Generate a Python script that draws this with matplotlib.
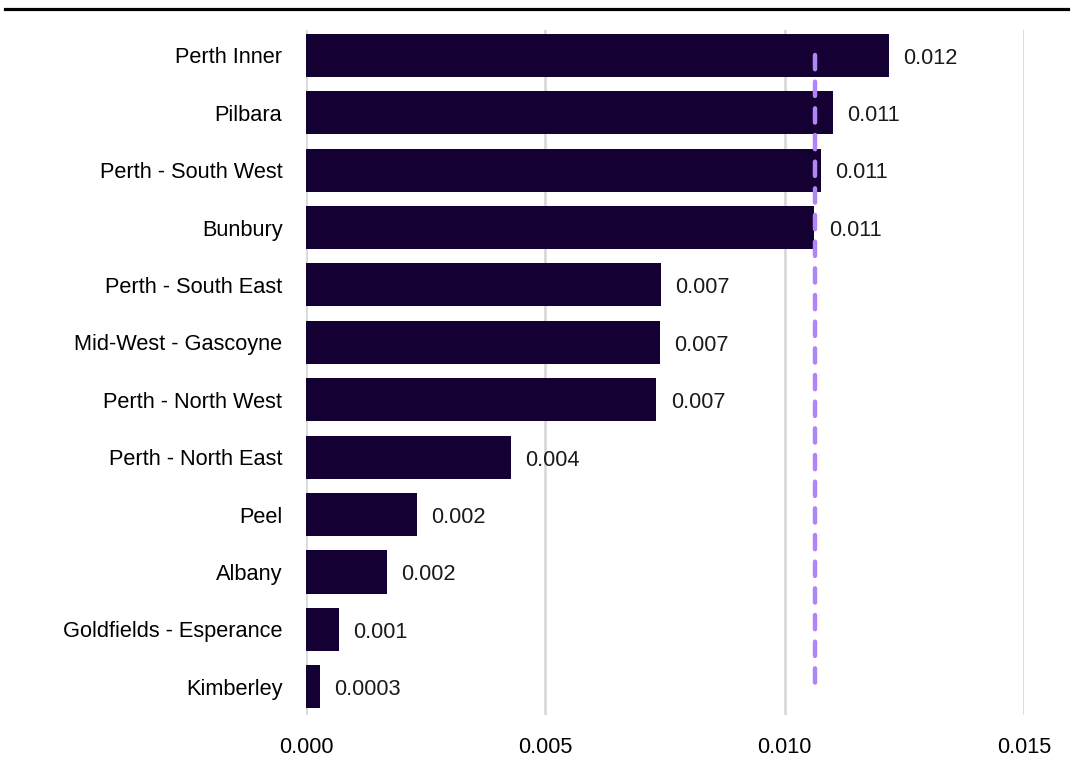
import matplotlib
matplotlib.use("Agg")
import matplotlib.pyplot as plt
from matplotlib.lines import Line2D

regions = ["Perth Inner", "Pilbara", "Perth - South West", "Bunbury",
           "Perth - South East", "Mid-West - Gascoyne", "Perth - North West",
           "Perth - North East", "Peel", "Albany", "Goldfields - Esperance",
           "Kimberley"]
values = [0.01218, 0.01100, 0.01075, 0.01062, 0.00741, 0.00739, 0.00732,
          0.00428, 0.00232, 0.00169, 0.00069, 0.00029]
value_labels = ["0.012", "0.011", "0.011", "0.011", "0.007", "0.007", "0.007",
                "0.004", "0.002", "0.002", "0.001", "0.0003"]
state_average = 0.01064
xticks = [0.000, 0.005, 0.010, 0.015]
xtick_labels = ["0.000", "0.005", "0.010", "0.015"]

plt.rcParams["font.family"] = ["Liberation Sans", "DejaVu Sans"]

fig = plt.figure(figsize=(10.73, 7.62), dpi=100)
ax = fig.add_axes([0.2852, 0.0617, 0.9543 - 0.2852, 0.9606 - 0.0617])

ypos = list(range(len(regions)))
ax.barh(ypos, values, height=0.75, color="#150033", zorder=2)

for y, v, lab in zip(ypos, values, value_labels):
    ax.text(v + 0.0003, y + 0.05, lab, va="center", ha="left",
            fontsize=15.7, color="#1a1a1a", zorder=4)

ax.plot([state_average, state_average], [0, len(regions) - 1],
        color="#B185F7", linewidth=3.2, linestyle=(0, (3.2, 2.8)),
        solid_capstyle="round", dash_capstyle="round", zorder=3)

ax.set_xlim(0, 0.015)
ax.set_ylim(len(regions) - 1 + 0.49, -0.44)
ax.set_xticks(xticks)
ax.set_xticklabels(xtick_labels)
ax.set_yticks(ypos)
ax.set_yticklabels(regions)
ax.tick_params(axis="both", length=0, labelsize=15.7, colors="#000000")
ax.tick_params(axis="x", pad=16)
ax.tick_params(axis="y", pad=17)
ax.grid(axis="x", color="#d9d9d9", linewidth=2, zorder=0)
ax.set_axisbelow(True)
for s in ax.spines.values():
    s.set_visible(False)

fig.add_artist(Line2D([5 / 1073, 1068 / 1073], [1 - 8.5 / 762, 1 - 8.5 / 762],
                      color="black", linewidth=2.3, transform=fig.transFigure))

fig.savefig("out.png", dpi=100)
